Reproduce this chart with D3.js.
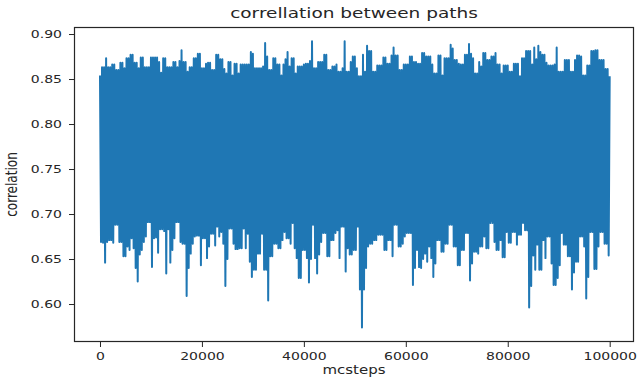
<!DOCTYPE html>
<html>
<head>
<meta charset="utf-8">
<script src="https://cdn.jsdelivr.net/npm/d3@7"></script>
<style>
  body { margin: 0; background: #fff; }
  svg { display: block; }
  text { font-family: "DejaVu Sans", sans-serif; fill: #262626; }
</style>
</head>
<body>
<svg id="chart" width="638" height="381"></svg>
<script>
// Correlation between two Monte Carlo paths, sampled every 200 steps.
// The series alternates between local peaks and troughs of the trace.
const mcStep = 200;

const peakValues = [
  0.854, 0.863, 0.863, 0.873, 0.863, 0.863, 0.866, 0.866, 0.860, 0.860,
  0.868, 0.868, 0.862, 0.873, 0.873, 0.877, 0.877, 0.868, 0.868, 0.862,
  0.874, 0.874, 0.863, 0.863, 0.863, 0.874, 0.874, 0.874, 0.874, 0.869,
  0.857, 0.873, 0.873, 0.863, 0.863, 0.863, 0.869, 0.869, 0.863, 0.870,
  0.882, 0.869, 0.869, 0.858, 0.863, 0.863, 0.873, 0.873, 0.878, 0.878,
  0.862, 0.862, 0.867, 0.868, 0.868, 0.860, 0.860, 0.877, 0.877, 0.872,
  0.872, 0.861, 0.856, 0.869, 0.869, 0.854, 0.867, 0.867, 0.856, 0.866,
  0.866, 0.866, 0.866, 0.866, 0.880, 0.878, 0.862, 0.862, 0.862, 0.862,
  0.864, 0.890, 0.875, 0.860, 0.860, 0.873, 0.873, 0.866, 0.866, 0.854,
  0.866, 0.872, 0.880, 0.864, 0.873, 0.873, 0.856, 0.864, 0.864, 0.864,
  0.866, 0.867, 0.867, 0.870, 0.892, 0.862, 0.862, 0.869, 0.869, 0.869,
  0.877, 0.877, 0.860, 0.860, 0.864, 0.864, 0.866, 0.858, 0.858, 0.862,
  0.892, 0.858, 0.858, 0.869, 0.875, 0.875, 0.862, 0.853, 0.853, 0.877,
  0.858, 0.887, 0.881, 0.881, 0.858, 0.858, 0.865, 0.865, 0.865, 0.874,
  0.874, 0.867, 0.867, 0.876, 0.885, 0.876, 0.876, 0.860, 0.860, 0.866,
  0.866, 0.866, 0.875, 0.875, 0.869, 0.869, 0.867, 0.867, 0.879, 0.879,
  0.875, 0.875, 0.875, 0.866, 0.856, 0.856, 0.876, 0.876, 0.854, 0.873,
  0.873, 0.873, 0.888, 0.884, 0.871, 0.871, 0.867, 0.866, 0.866, 0.877,
  0.877, 0.889, 0.878, 0.873, 0.856, 0.856, 0.869, 0.864, 0.879, 0.879,
  0.871, 0.871, 0.875, 0.875, 0.879, 0.866, 0.866, 0.856, 0.865, 0.865,
  0.865, 0.858, 0.858, 0.867, 0.867, 0.867, 0.853, 0.873, 0.873, 0.881,
  0.881, 0.881, 0.866, 0.885, 0.872, 0.887, 0.880, 0.877, 0.877, 0.868,
  0.865, 0.865, 0.865, 0.866, 0.885, 0.858, 0.858, 0.858, 0.871, 0.871,
  0.871, 0.858, 0.858, 0.871, 0.876, 0.876, 0.875, 0.854, 0.854, 0.865,
  0.865, 0.881, 0.881, 0.882, 0.882, 0.871, 0.871, 0.871, 0.861, 0.861,
  0.853
];

const troughValues = [
  0.669, 0.668, 0.646, 0.669, 0.671, 0.671, 0.668, 0.688, 0.688, 0.669,
  0.669, 0.653, 0.653, 0.664, 0.660, 0.673, 0.662, 0.640, 0.625, 0.655,
  0.660, 0.669, 0.675, 0.691, 0.691, 0.641, 0.673, 0.674, 0.657, 0.683,
  0.683, 0.681, 0.634, 0.683, 0.646, 0.660, 0.673, 0.691, 0.691, 0.669,
  0.667, 0.667, 0.609, 0.640, 0.656, 0.667, 0.675, 0.676, 0.676, 0.643,
  0.673, 0.673, 0.651, 0.664, 0.678, 0.678, 0.665, 0.686, 0.675, 0.680,
  0.667, 0.620, 0.650, 0.684, 0.684, 0.667, 0.661, 0.661, 0.662, 0.662,
  0.684, 0.662, 0.678, 0.647, 0.630, 0.638, 0.638, 0.656, 0.656, 0.678,
  0.638, 0.638, 0.604, 0.653, 0.653, 0.667, 0.667, 0.662, 0.662, 0.671,
  0.680, 0.673, 0.673, 0.667, 0.690, 0.662, 0.651, 0.629, 0.629, 0.660,
  0.660, 0.651, 0.624, 0.650, 0.688, 0.651, 0.634, 0.655, 0.669, 0.679,
  0.679, 0.653, 0.653, 0.671, 0.671, 0.679, 0.682, 0.651, 0.686, 0.686,
  0.636, 0.662, 0.655, 0.655, 0.660, 0.660, 0.686, 0.616, 0.574, 0.616,
  0.640, 0.664, 0.667, 0.667, 0.671, 0.671, 0.677, 0.677, 0.677, 0.660,
  0.660, 0.671, 0.671, 0.653, 0.688, 0.688, 0.664, 0.664, 0.667, 0.675,
  0.679, 0.679, 0.679, 0.621, 0.640, 0.660, 0.641, 0.640, 0.650, 0.656,
  0.647, 0.664, 0.651, 0.630, 0.645, 0.671, 0.671, 0.658, 0.658, 0.667,
  0.667, 0.688, 0.688, 0.664, 0.664, 0.643, 0.643, 0.660, 0.660, 0.679,
  0.679, 0.626, 0.645, 0.658, 0.658, 0.656, 0.664, 0.664, 0.675, 0.662,
  0.662, 0.690, 0.690, 0.669, 0.660, 0.660, 0.671, 0.652, 0.652, 0.680,
  0.668, 0.668, 0.680, 0.680, 0.666, 0.677, 0.677, 0.690, 0.682, 0.682,
  0.596, 0.620, 0.654, 0.638, 0.666, 0.638, 0.638, 0.671, 0.651, 0.675,
  0.675, 0.645, 0.621, 0.621, 0.629, 0.643, 0.679, 0.666, 0.666, 0.653,
  0.653, 0.616, 0.635, 0.647, 0.647, 0.675, 0.675, 0.664, 0.606, 0.630,
  0.680, 0.680, 0.639, 0.639, 0.664, 0.680, 0.680, 0.667, 0.667, 0.654
];

const xTicks = [0, 20000, 40000, 60000, 80000, 100000];
const yTicks = [0.60, 0.65, 0.70, 0.75, 0.80, 0.85, 0.90];

const chartTitle = "correllation between paths";
const xLabel = "mcsteps";
const yLabel = "correlation";

// Interleave peaks and troughs into one ordered trace.
const series = [];
peakValues.forEach((v, i) => {
  series.push({ step: 2 * i * mcStep, value: v });
  if (i < troughValues.length) {
    series.push({ step: (2 * i + 1) * mcStep, value: troughValues[i] });
  }
});

const svg = d3.select("#chart");
const frame = { left: 74, right: 634, top: 27, bottom: 342 };
const squash = 0.78; // vertical text squeeze of the figure

const x = d3.scaleLinear().domain([-5100, 104770]).range([frame.left, frame.right]);
const y = d3.scaleLinear().domain([0.5578, 0.9078]).range([frame.bottom, frame.top]);

// trace
svg.append("path")
  .datum(series)
  .attr("fill", "none")
  .attr("stroke", "#1f77b4")
  .attr("stroke-width", 2)
  .attr("stroke-linejoin", "round")
  .attr("d", d3.line().x(d => x(d.step)).y(d => y(d.value)));

// axes
const xAxis = svg.append("g")
  .attr("transform", `translate(0,${frame.bottom})`)
  .call(d3.axisBottom(x).tickValues(xTicks).tickFormat(d3.format("d")).tickSize(5).tickSizeOuter(0));
xAxis.select(".domain").remove();
xAxis.selectAll(".tick line").attr("stroke", "#262626").attr("stroke-width", 1);
xAxis.selectAll(".tick text")
  .attr("font-size", 14)
  .attr("font-family", "DejaVu Sans, sans-serif")
  .attr("fill", "#262626")
  .attr("dy", 0)
  .attr("y", 18 / squash)
  .attr("transform", `scale(1,${squash})`);

const yAxis = svg.append("g")
  .attr("transform", `translate(${frame.left},0)`)
  .call(d3.axisLeft(y).tickValues(yTicks).tickFormat(d3.format(".2f")).tickSize(5).tickPadding(7).tickSizeOuter(0));
yAxis.select(".domain").remove();
yAxis.selectAll(".tick line").attr("stroke", "#262626").attr("stroke-width", 1);
yAxis.selectAll(".tick text")
  .attr("font-size", 14)
  .attr("font-family", "DejaVu Sans, sans-serif")
  .attr("fill", "#262626")
  .attr("transform", `scale(1,${squash})`);

// frame
svg.append("rect")
  .attr("x", frame.left + 0.5)
  .attr("y", frame.top + 0.5)
  .attr("width", frame.right - frame.left - 1)
  .attr("height", frame.bottom - frame.top - 1)
  .attr("fill", "none")
  .attr("stroke", "#262626")
  .attr("stroke-width", 1.2);

const midX = (frame.left + frame.right) / 2;

svg.append("text")
  .attr("transform", `translate(${midX},17.5) scale(1,0.72)`)
  .attr("text-anchor", "middle")
  .attr("font-size", 18.5)
  .text(chartTitle);

svg.append("text")
  .attr("transform", `translate(${midX},374) scale(1,${squash})`)
  .attr("text-anchor", "middle")
  .attr("font-size", 15)
  .text(xLabel);

svg.append("text")
  .attr("transform", `translate(17,${(frame.top + frame.bottom) / 2}) scale(1,${squash}) rotate(-90)`)
  .attr("text-anchor", "middle")
  .attr("font-size", 15.5)
  .text(yLabel);
</script>
</body>
</html>
